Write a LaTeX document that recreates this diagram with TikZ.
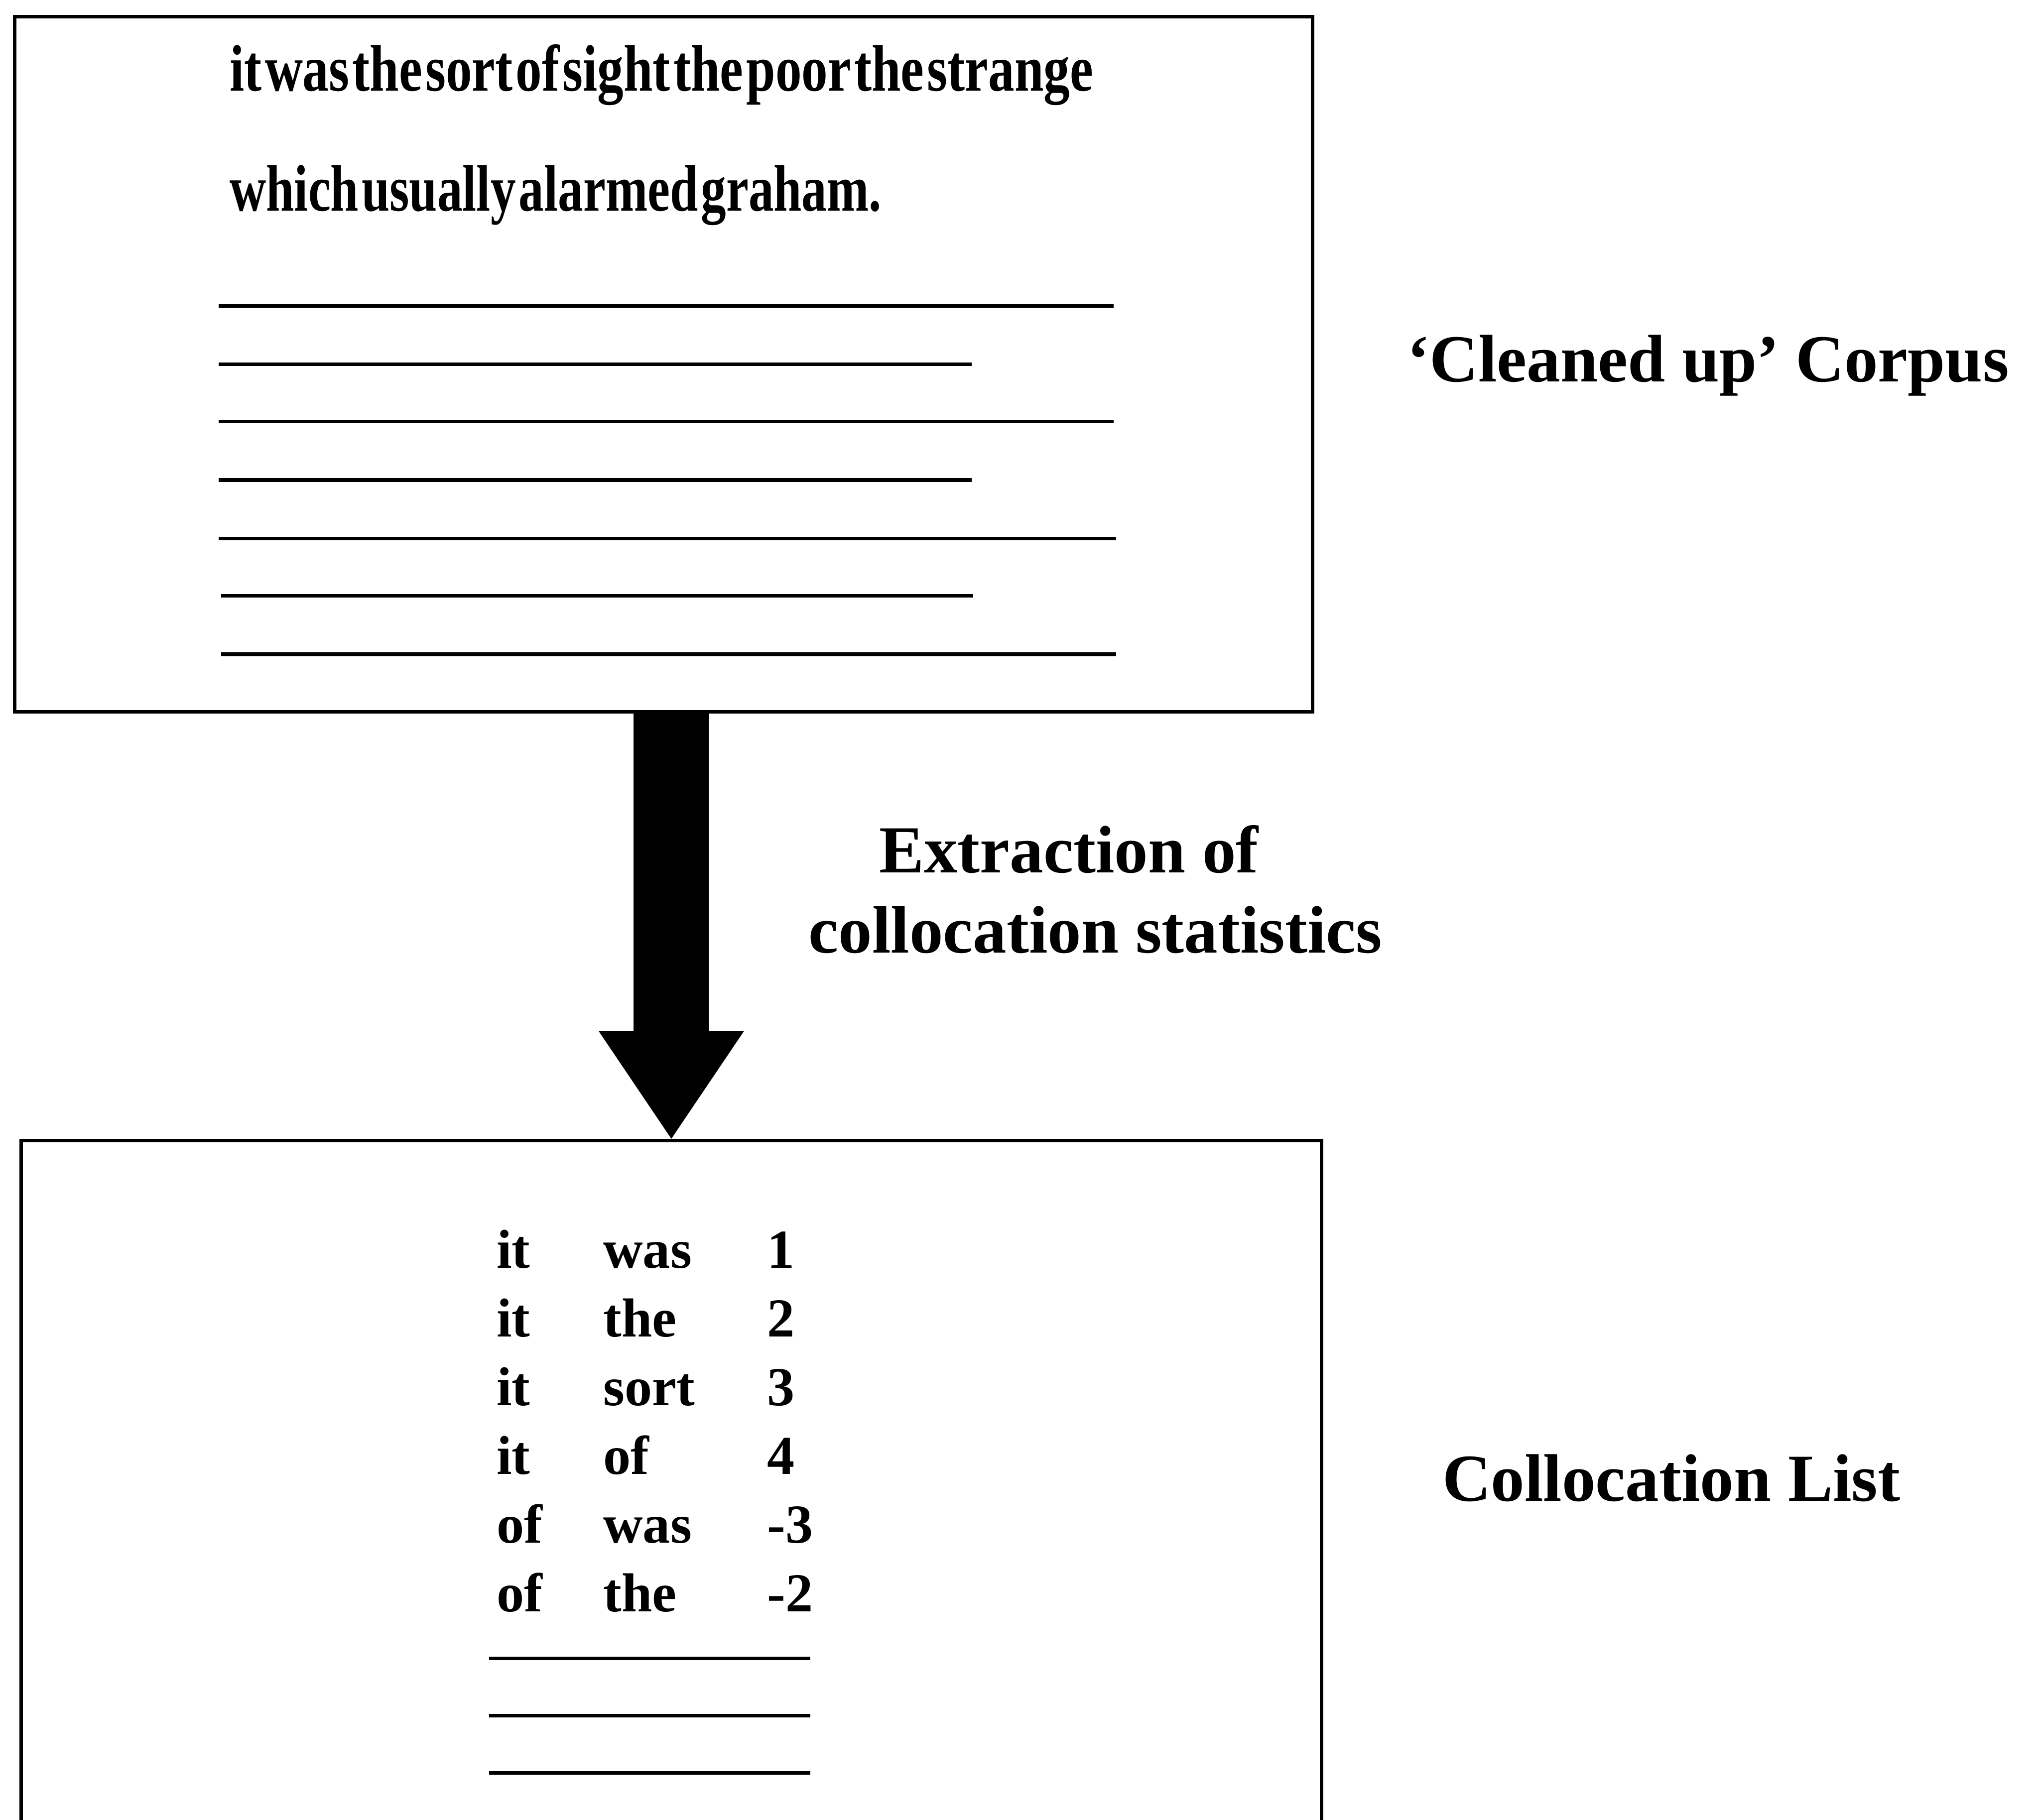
\documentclass[tikz,border=0pt]{standalone}
\usepackage{fontspec}
\setmainfont{Liberation Serif}
\usetikzlibrary{calc}

\tikzset{
  panel/.style={draw, line width=0.8pt, rectangle, inner sep=0pt},
  textrule/.style={line width=0.8pt},
  corpustext/.style={anchor=base west, inner sep=0pt,
    font=\bfseries\fontsize{14.4pt}{17pt}\selectfont},
  listtext/.style={anchor=base west, inner sep=0pt,
    font=\bfseries\fontsize{12pt}{14pt}\selectfont},
  sidelabel/.style={inner sep=0pt,
    font=\bfseries\fontsize{14.7pt}{17pt}\selectfont},
  flowarrow/.style={fill=black},
}
% condensed, tightly set sample sentence
\newcommand{\squeezed}[2]{\scalebox{#1}[1]{\spaceskip=0.06em\relax #2}}

\begin{document}
\begin{tikzpicture}[x=0.01cm, y=-0.01cm]
\useasboundingbox (0,0) rectangle (1568,1399);
\clip (0,0) rectangle (1568,1399);

% the two panels
\node[panel, minimum width=9.97cm, minimum height=5.34cm] (corpus) at (510,280) {};
\node[panel, minimum width=9.99cm, minimum height=5.6cm] (colloc) at (516,1157) {};

% corpus panel: sample text and placeholder lines
\node[corpustext] (sent1) at (176,70) {\squeezed{0.795}{it was the sort of sight the poor the strange}};
\node[corpustext] (sent2) at (176,162) {\squeezed{0.765}{which usually alarmed graham.}};
\draw[textrule] (168,235) -- (856,235);
\draw[textrule] (168,280) -- (747,280);
\draw[textrule] (168,324) -- (856,324);
\draw[textrule] (168,369) -- (747,369);
\draw[textrule] (168,414) -- (858,414);
\draw[textrule] (170,458) -- (748,458);
\draw[textrule] (170,503) -- (858,503);

% block arrow from the corpus to the collocation list
\coordinate (shafttop) at (corpus.south -| colloc.north);
\fill[flowarrow] ($(shafttop)+(-29,0)$) -- ($(colloc.north)+(-29,-83)$)
  -- ($(colloc.north)+(-56,-83)$) -- (colloc.north)
  -- ($(colloc.north)+(56,-83)$) -- ($(colloc.north)+(29,-83)$)
  -- ($(shafttop)+(29,0)$) -- cycle;

% collocation list entries
\foreach \wa/\wb/\num [count=\i] in {it/was/1, it/the/2, it/sort/3, it/of/4, of/was/-3, of/the/-2} {
  \pgfmathsetmacro\yy{975+52.8*(\i-1)}
  \node[listtext] (wa\i) at (381,\yy) {\wa};
  \node[listtext] (wb\i) at (463,\yy) {\wb};
  \node[listtext] (num\i) at (589,\yy) {\num};
}
\draw[textrule] (376,1275) -- (623,1275);
\draw[textrule] (376,1319) -- (623,1319);
\draw[textrule] (376,1363) -- (623,1363);

% side labels
\node[sidelabel, anchor=base west] (corpuslabel) at (1081,293.5) {‘Cleaned up’ Corpus};
\node[sidelabel, anchor=base] (extract1) at (821.5,671) {Extraction of};
\node[sidelabel, anchor=base] (extract2) at (842,732.6) {collocation statistics};
\node[sidelabel, anchor=base west] (listlabel) at (1108,1154) {Collocation List};
\end{tikzpicture}
\end{document}
